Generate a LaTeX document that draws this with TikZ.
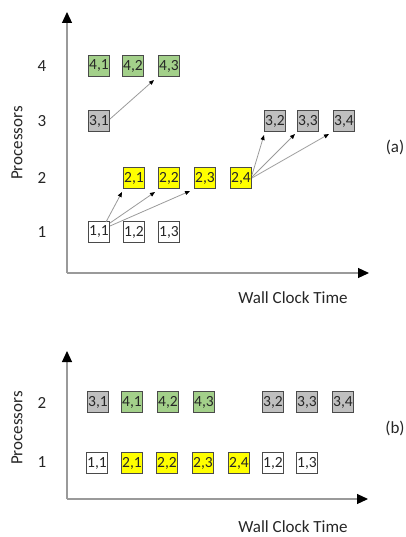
\documentclass[tikz,border=0pt]{standalone}
\usepackage{fontspec}
\setmainfont{Carlito}
\usetikzlibrary{arrows.meta}
\definecolor{bgreen}{HTML}{A3D08A}
\definecolor{bgray}{HTML}{BFBFBF}
\definecolor{byellow}{HTML}{FFFF00}
\definecolor{axisgray}{HTML}{9A9A9A}
\definecolor{boxline}{HTML}{4A4A4A}
\begin{document}
\begin{tikzpicture}[x=1pt,y=-1pt,
  tbox/.style={draw=boxline,line width=1pt,minimum width=21pt,minimum height=21pt,inner sep=0pt,text=black!85,font=\fontsize{15.5}{15.5}\selectfont},
  gbox/.style={tbox,fill=bgreen},
  ybox/.style={tbox,fill=byellow},
  sbox/.style={tbox,fill=bgray},
  wbox/.style={tbox,fill=white},
  axis/.style={draw=axisgray,line width=1.2pt,-{Triangle[length=11pt,width=10pt,black]}},
  dep/.style={draw=axisgray,line width=0.8pt,-{Triangle[length=5pt,width=4pt,black]}},
  lab/.style={font=\fontsize{17}{17}\selectfont,text=black!85}
]
\useasboundingbox (0,0) rectangle (405,537);
% ---------- (a) ----------
\coordinate (oa) at (67,273);
\coordinate (ya) at (67,12);
\coordinate (xa) at (369,273);
\draw[axis] (oa) -- (ya);
\draw[axis] (oa) -- (xa);
\node[lab] (pa) at (17,143) [rotate=90] {Processors};
\node[lab] (wa) at (293,298) {Wall Clock Time};
\node[lab] (la) at (395,147) {(a)};
\node[lab] (r4) at (42,66) {4};
\node[lab] (r3) at (42,121) {3};
\node[lab] (r2) at (42,178) {2};
\node[lab] (r1) at (42,232) {1};
\node[gbox] (a41) at (99,66) {4,1};
\node[gbox] (a42) at (133,66) {4,2};
\node[gbox] (a43) at (169,66) {4,3};
\node[sbox] (a31) at (99,121) {3,1};
\node[sbox] (a32) at (275,121) {3,2};
\node[sbox] (a33) at (308,121) {3,3};
\node[sbox] (a34) at (344,121) {3,4};
\node[ybox] (a21) at (134,178) {2,1};
\node[ybox] (a22) at (169,178) {2,2};
\node[ybox] (a23) at (205,178) {2,3};
\node[ybox] (a24) at (241,178) {2,4};
\node[wbox] (a11) at (99,232) {1,1};
\node[wbox] (a12) at (134,232) {1,2};
\node[wbox] (a13) at (169,232) {1,3};
\draw[dep] ([xshift=-4pt,yshift=-1pt]a11.north east) -- ([xshift=-1pt,yshift=-3pt]a21.south west);
\draw[dep] ([xshift=0pt,yshift=-2pt]a11.north east) -- ([xshift=-3pt,yshift=-3pt]a22.south west);
\draw[dep] ([xshift=0pt,yshift=-5pt]a11.north east) -- ([xshift=-4pt,yshift=-2pt]a23.south west);
\draw[dep] ([yshift=-9pt]a31.north east) -- ([xshift=-4pt,yshift=-3pt]a43.south west);
\draw[dep] ([xshift=0pt,yshift=-8pt]a24.north east) -- ([xshift=0pt,yshift=-3pt]a32.south west);
\draw[dep] ([xshift=0pt,yshift=-10pt]a24.north east) -- ([xshift=-2pt,yshift=-2pt]a33.south west);
\draw[dep] ([xshift=0pt,yshift=-11pt]a24.north east) -- ([xshift=-4pt,yshift=-2pt]a34.south west);
% ---------- (b) ----------
\coordinate (ob) at (67,499);
\coordinate (yb) at (67,351);
\coordinate (xb) at (368,499);
\draw[axis] (ob) -- (yb);
\draw[axis] (ob) -- (xb);
\node[lab] (pb) at (17,428) [rotate=90] {Processors};
\node[lab] (wb) at (293,527) {Wall Clock Time};
\node[lab] (lb) at (395,428) {(b)};
\node[lab] (s2) at (42,403) {2};
\node[lab] (s1) at (42,462) {1};
\node[sbox] (b31) at (98,402) {3,1};
\node[gbox] (b41) at (132,402) {4,1};
\node[gbox] (b42) at (168,402) {4,2};
\node[gbox] (b43) at (204,402) {4,3};
\node[sbox] (b32) at (273,402) {3,2};
\node[sbox] (b33) at (307,402) {3,3};
\node[sbox] (b34) at (343,402) {3,4};
\node[wbox] (b11) at (97,463) {1,1};
\node[ybox] (b21) at (132,463) {2,1};
\node[ybox] (b22) at (167,463) {2,2};
\node[ybox] (b23) at (203,463) {2,3};
\node[ybox] (b24) at (239,463) {2,4};
\node[wbox] (b12) at (273,463) {1,2};
\node[wbox] (b13) at (307,463) {1,3};
\end{tikzpicture}
\end{document}
